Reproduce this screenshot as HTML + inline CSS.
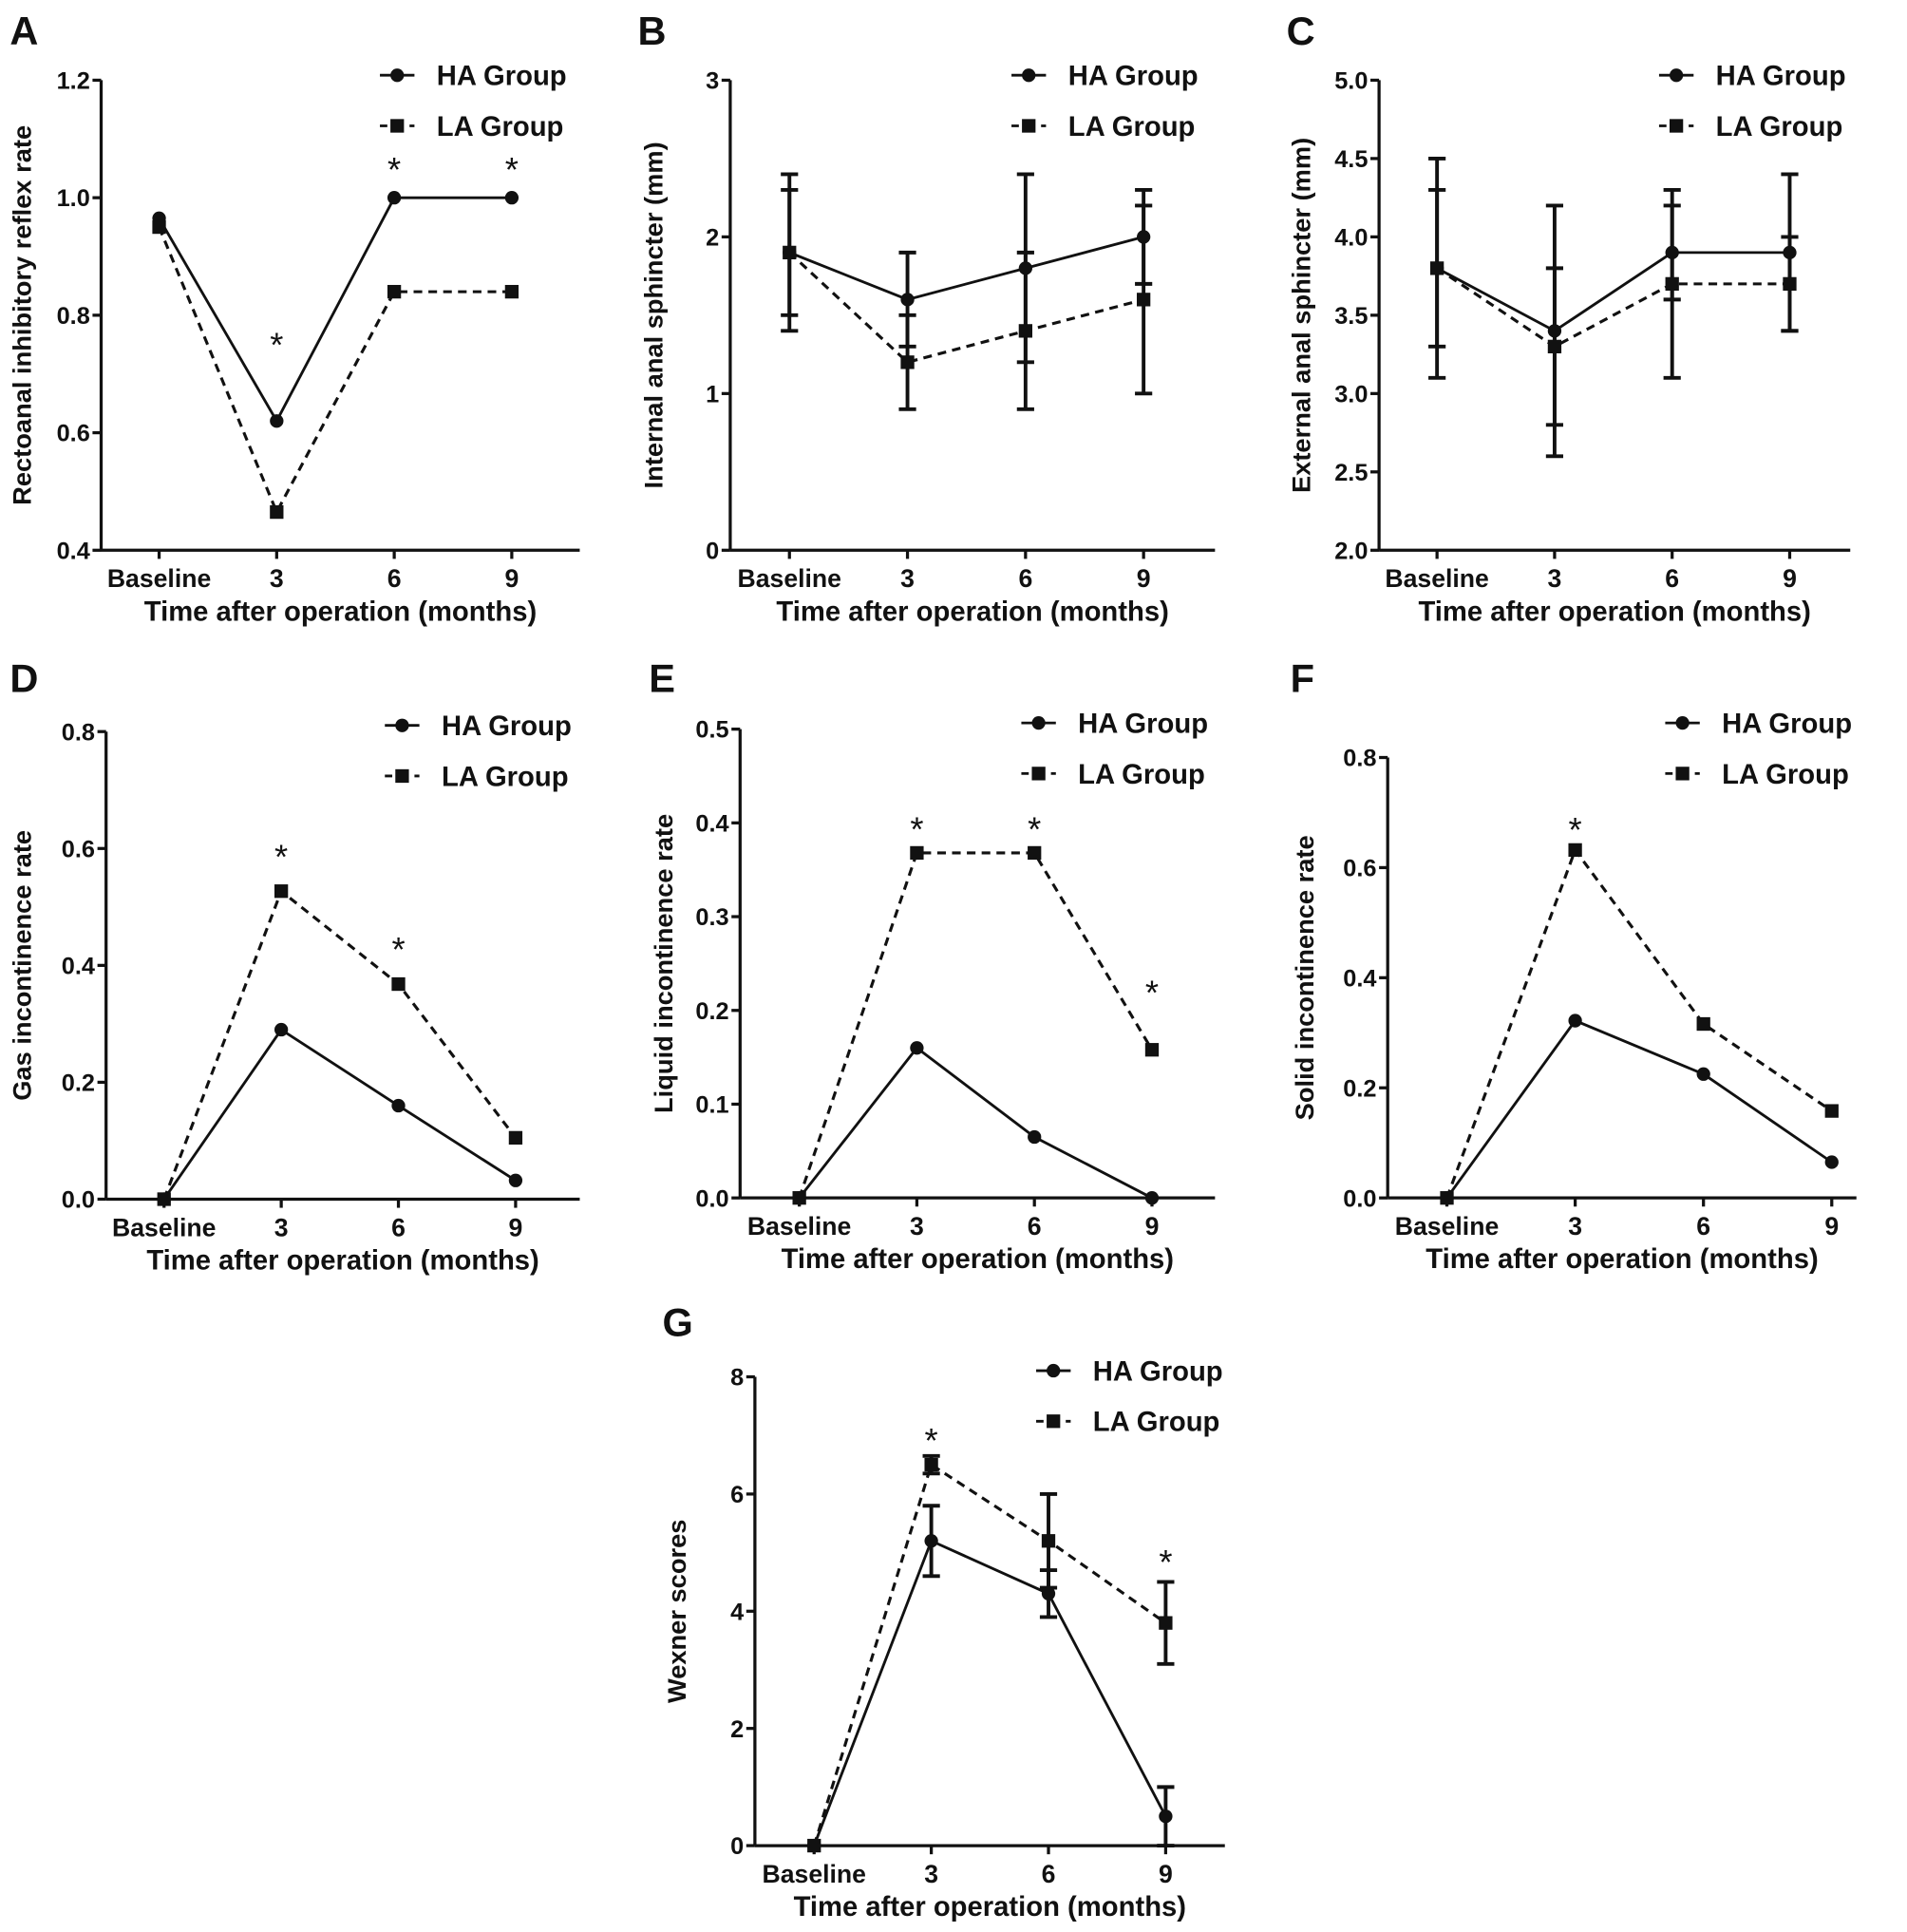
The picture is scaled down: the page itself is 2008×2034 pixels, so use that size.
<!DOCTYPE html>
<html><head><meta charset="utf-8"><style>
html,body{margin:0;padding:0;background:#fff;}
svg{display:block;}
text{font-family:"Liberation Sans",Arial,sans-serif;fill:#111;}
</style></head><body>
<svg id="fig" width="2008" height="2034" viewBox="0 0 1546 1566" xmlns="http://www.w3.org/2000/svg"></svg>
<script>
const categories = ["Baseline","3","6","9"];
// Panel A
const aHA = [0.965,0.62,1.0,1.0];
const aLA = [0.95,0.465,0.84,0.84];
const aTicks = [0.4,0.6,0.8,1.0,1.2];
const aStarIdx = [1,2,3];
const aStarVal = [0.759,1.057,1.057];
// Panel B
const bHA = [1.9,1.6,1.8,2.0];
const bHAerr = [0.5,0.3,0.6,0.3];
const bLA = [1.9,1.2,1.4,1.6];
const bLAerr = [0.4,0.3,0.5,0.6];
const bTicks = [0,1,2,3];
// Panel C
const cHA = [3.8,3.4,3.9,3.9];
const cHAerr = [0.7,0.8,0.3,0.5];
const cLA = [3.8,3.3,3.7,3.7];
const cLAerr = [0.5,0.5,0.6,0.3];
const cTicks = [2.0,2.5,3.0,3.5,4.0,4.5,5.0];
// Panel D
const dHA = [0,0.29,0.16,0.032];
const dLA = [0,0.527,0.368,0.105];
const dTicks = [0.0,0.2,0.4,0.6,0.8];
const dStarIdx = [1,2];
const dStarVal = [0.595,0.437];
// Panel E
const eHA = [0,0.16,0.065,0];
const eLA = [0,0.368,0.368,0.158];
const eTicks = [0.0,0.1,0.2,0.3,0.4,0.5];
const eStarIdx = [1,2,3];
const eStarVal = [0.399,0.399,0.225];
// Panel F
const fHA = [0,0.322,0.225,0.065];
const fLA = [0,0.632,0.316,0.158];
const fTicks = [0.0,0.2,0.4,0.6,0.8];
const fStarIdx = [1];
const fStarVal = [0.679];
// Panel G
const gHA = [0,5.2,4.3,0.5];
const gHAerr = [0,0.6,0.4,0.5];
const gLA = [0,6.5,5.2,3.8];
const gLAerr = [0,0.15,0.8,0.7];
const gTicks = [0,2,4,6,8];
const gStarIdx = [1,3];
const gStarVal = [7.01,4.93];

const NS="http://www.w3.org/2000/svg";
const svg=document.getElementById('fig');
function mk(tag,attrs,parent,txt){const e=document.createElementNS(NS,tag);for(const k in attrs)e.setAttribute(k,attrs[k]);if(txt!==undefined)e.textContent=txt;(parent||svg).appendChild(e);return e;}

function panel(o){
  const g=mk('g',{});
  
  
  const ymin=o.ticks[0], ymax=o.ticks[o.ticks.length-1];
  const ys=v=>o.y1-(v-ymin)/(ymax-ymin)*(o.y1-o.y0);
  const xs=i=>o.cx0+i*o.dx;
  const lab=mk('text',{x:o.lx,y:o.ly,'font-size':32,'font-weight':'bold'},g,o.id);
   
  const ya=mk('line',{x1:o.ax,y1:o.y0,x2:o.ax,y2:o.y1,stroke:'#111','stroke-width':2.5},g);
   
  const xa=mk('line',{x1:o.ax,y1:o.y1,x2:o.xend,y2:o.y1,stroke:'#111','stroke-width':2.5},g);
   
  o.ticks.forEach(t=>{
    const y=ys(t);
    mk('line',{x1:o.ax-7,y1:y,x2:o.ax,y2:y,stroke:'#111','stroke-width':2.5},g);
    const tl=mk('text',{x:o.ax-9,y:y+7,'font-size':19.5,'font-weight':'bold','text-anchor':'end'},g,o.fmt(t));
     
  });
  categories.forEach((c,i)=>{
    mk('line',{x1:xs(i),y1:o.y1,x2:xs(i),y2:o.y1+7,stroke:'#111','stroke-width':2.5},g);
    const tl=mk('text',{x:xs(i),y:o.y1+30,'font-size':20.5,'font-weight':'bold','text-anchor':'middle'},g,c);
     
  });
  const xt=mk('text',{x:(o.ax+o.xend)/2,y:o.y1+57,'font-size':22.5,'font-weight':'bold','text-anchor':'middle'},g,'Time after operation (months)');
   
  const ym=(o.y0+o.y1)/2;
  const yt=mk('text',{x:o.ytx,y:ym,'font-size':21,'font-weight':'bold','text-anchor':'middle',transform:`rotate(-90 ${o.ytx} ${ym})`},g,o.ytitle);
   
  function errs(vals,err){
    if(!err)return;
    vals.forEach((v,i)=>{ if(!err[i])return;
      const x=xs(i),a=ys(v+err[i]),b=ys(v-err[i]);
      const eb=mk('path',{d:`M${x},${a}V${b}M${x-7},${a}H${x+7}M${x-7},${b}H${x+7}`,stroke:'#111','stroke-width':3,fill:'none'},g);
       
    });
  }
  errs(o.ha,o.haErr); errs(o.la,o.laErr);
  const pts=a=>a.map((v,i)=>xs(i)+','+ys(v)).join(' ');
  const l1=mk('polyline',{points:pts(o.la),fill:'none',stroke:'#111','stroke-width':2.4,'stroke-dasharray':'7,5'},g);
   
  const l2=mk('polyline',{points:pts(o.ha),fill:'none',stroke:'#111','stroke-width':2.2},g);
   
  o.ha.forEach((v,i)=>{const c=mk('circle',{cx:xs(i),cy:ys(v),r:5.5,fill:'#111'},g);
     });
  o.la.forEach((v,i)=>{const r=mk('rect',{x:xs(i)-5.5,y:ys(v)-5.5,width:11,height:11,fill:'#111'},g);
     });
  (o.starIdx||[]).forEach((i,k)=>{
    const s=mk('text',{x:xs(i),y:ys(o.starVal[k])+14,'font-size':28,'text-anchor':'middle'},g,'*');
     
  });
  const L=o.legX, LY=o.legY;
  const lg1=mk('g',{},g);  
  mk('line',{x1:L,y1:LY,x2:L+28,y2:LY,stroke:'#111','stroke-width':2.2},lg1);
  mk('circle',{cx:L+14,cy:LY,r:5.5,fill:'#111'},lg1);
  mk('text',{x:L+46,y:LY+8,'font-size':22.5,'font-weight':'bold'},lg1,'HA Group');
  const lg2=mk('g',{},g);  
  mk('line',{x1:L,y1:LY+41,x2:L+28,y2:LY+41,stroke:'#111','stroke-width':2.2,'stroke-dasharray':'6,6'},lg2);
  mk('rect',{x:L+8.5,y:LY+35.5,width:11,height:11,fill:'#111'},lg2);
  mk('text',{x:L+46,y:LY+49,'font-size':22.5,'font-weight':'bold'},lg2,'LA Group');
}
const f1=v=>v.toFixed(1), f0=v=>v.toFixed(0);
panel({id:'A',lx:8,ly:36,ax:82,y0:65,y1:446,xend:470,cx0:129,dx:95.3,ticks:aTicks,fmt:f1,ha:aHA,la:aLA,starIdx:aStarIdx,starVal:aStarVal,legX:308,legY:61,ytx:25,ytitle:'Rectoanal inhibitory reflex rate'});
panel({id:'B',lx:517,ly:36,ax:592,y0:65,y1:446,xend:985,cx0:640,dx:95.7,ticks:bTicks,fmt:f0,ha:bHA,haErr:bHAerr,la:bLA,laErr:bLAerr,legX:820,legY:61,ytx:537,ytitle:'Internal anal sphincter (mm)'});
panel({id:'C',lx:1043,ly:36,ax:1118,y0:65,y1:446,xend:1500,cx0:1165,dx:95.3,ticks:cTicks,fmt:f1,ha:cHA,haErr:cHAerr,la:cLA,laErr:cLAerr,legX:1345,legY:61,ytx:1062,ytitle:'External anal sphincter (mm)'});
panel({id:'D',lx:8,ly:561,ax:86,y0:593,y1:972,xend:470,cx0:133,dx:95,ticks:dTicks,fmt:f1,ha:dHA,la:dLA,starIdx:dStarIdx,starVal:dStarVal,legX:312,legY:588,ytx:25,ytitle:'Gas incontinence rate'});
panel({id:'E',lx:526,ly:561,ax:600,y0:591,y1:971,xend:985,cx0:648,dx:95.3,ticks:eTicks,fmt:f1,ha:eHA,la:eLA,starIdx:eStarIdx,starVal:eStarVal,legX:828,legY:586,ytx:545,ytitle:'Liquid incontinence rate'});
panel({id:'F',lx:1046,ly:561,ax:1125,y0:614,y1:971,xend:1505,cx0:1173,dx:104,ticks:fTicks,fmt:f1,ha:fHA,la:fLA,starIdx:fStarIdx,starVal:fStarVal,legX:1350,legY:586,ytx:1065,ytitle:'Solid incontinence rate'});
panel({id:'G',lx:537,ly:1083,ax:612,y0:1116,y1:1496,xend:993,cx0:660,dx:95,ticks:gTicks,fmt:f0,ha:gHA,haErr:gHAerr,la:gLA,laErr:gLAerr,starIdx:gStarIdx,starVal:gStarVal,legX:840,legY:1111,ytx:556,ytitle:'Wexner scores'});
</script>
</body></html>
